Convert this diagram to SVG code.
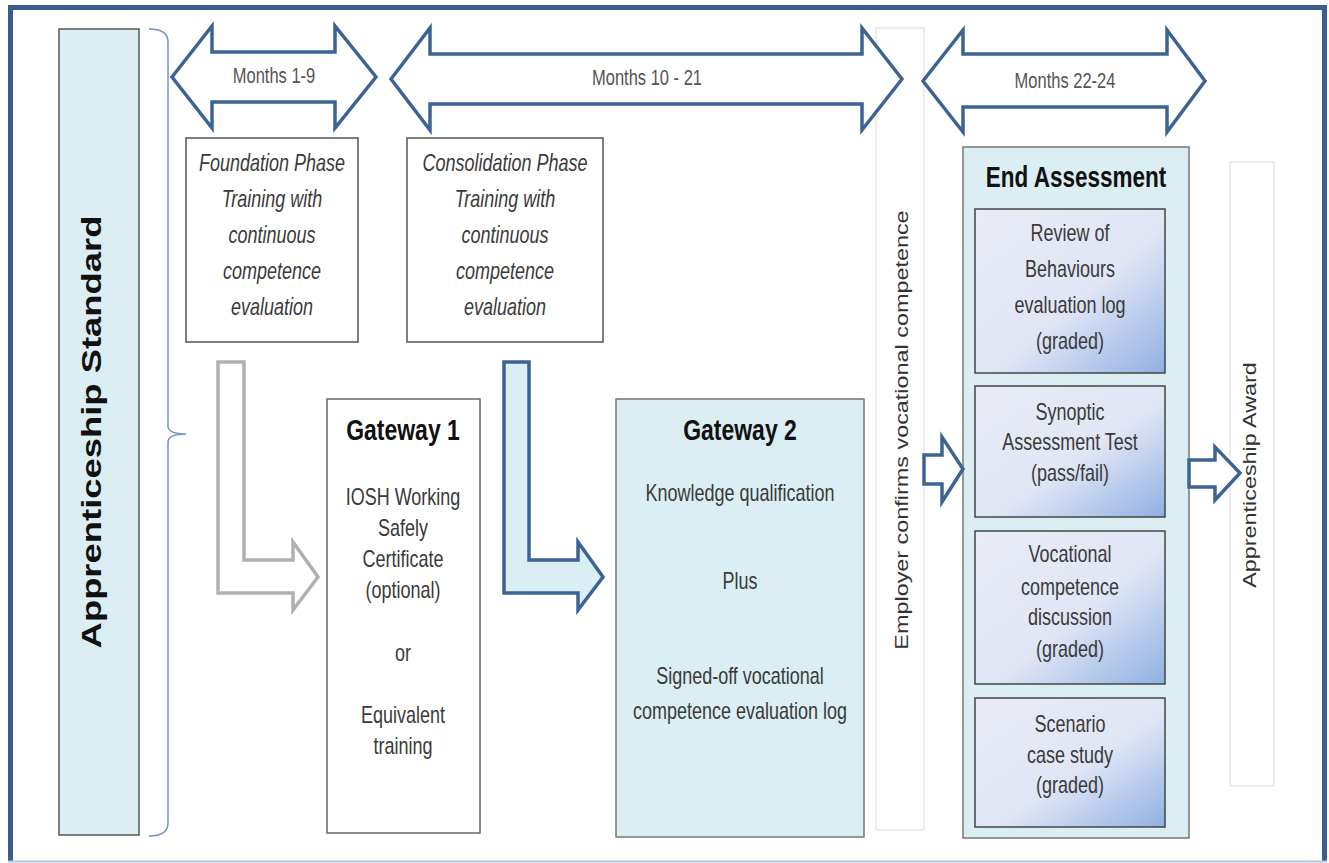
<svg xmlns="http://www.w3.org/2000/svg" width="1329" height="863" viewBox="0 0 1329 863">
<defs>
<linearGradient id="sub" x1="0" y1="0" x2="1" y2="1">
<stop offset="0" stop-color="#e9ecf6"/>
<stop offset="0.55" stop-color="#e1e6f5"/>
<stop offset="1" stop-color="#8fb0e3"/>
</linearGradient>
<style>
text{font-family:"Liberation Sans",Arial,sans-serif;text-anchor:middle}
.t{font-size:18px;fill:#3a3a3a}
.i{font-size:18px;fill:#3a3a3a;font-style:italic}
.m{font-size:16.5px;fill:#555}
.h{font-size:23px;font-weight:bold;fill:#111}
.box{fill:#fff;stroke:#666;stroke-width:1.5}
.lb{fill:#daeef3;stroke:#777;stroke-width:1.5}
.sb{fill:url(#sub);stroke:#444;stroke-width:1.5}
.faint{fill:#fff;stroke:#e2e2e2;stroke-width:1.2}
.ba{fill:#fff;stroke:#3b6494;stroke-width:3.5;stroke-linejoin:miter}
</style>
</defs>
<rect width="1329" height="863" fill="#fff"/>
<path d="M10.5,862 L10.5,7.5 L1324.5,7.5 L1324.5,862" fill="none" stroke="#3a5f8f" stroke-width="5"/>
<line x1="8" y1="861.5" x2="1327" y2="861.5" stroke="#b4c6e0" stroke-width="2"/>

<g id="standard">
<rect x="59" y="29" width="80" height="806" fill="#daeef3" stroke="#555" stroke-width="1.5"/>
<text transform="translate(101,432) scale(1,1.3) rotate(-90)" style="font-size:28px;font-weight:bold;fill:#111">Apprenticeship Standard</text>
</g>
<g id="brace">
<path d="M149,29 Q168,29 168,42 L168,426 Q168,434 186,434 Q168,434 168,442 L168,823 Q168,836 149,836" fill="none" stroke="#6d93c8" stroke-width="1.5"/>
</g>

<g id="employer">
<rect class="faint" x="876" y="28" width="48" height="802"/>
<text class="t" transform="translate(908,430) scale(1,1.3) rotate(-90)" style="fill:#333">Employer confirms vocational competence</text>
</g>

<g id="foundation">
<rect x="186" y="138" width="172" height="204" fill="#fff" stroke="#555" stroke-width="1.5"/>
<text class="i" transform="translate(272,171) scale(1,1.3)">Foundation Phase</text>
<text class="i" transform="translate(272,207) scale(1,1.3)">Training with</text>
<text class="i" transform="translate(272,243) scale(1,1.3)">continuous</text>
<text class="i" transform="translate(272,279) scale(1,1.3)">competence</text>
<text class="i" transform="translate(272,315) scale(1,1.3)">evaluation</text>
</g>

<g id="consolidation">
<rect x="407" y="138" width="196" height="204" fill="#fff" stroke="#555" stroke-width="1.5"/>
<text class="i" transform="translate(505,171) scale(1,1.3)">Consolidation Phase</text>
<text class="i" transform="translate(505,207) scale(1,1.3)">Training with</text>
<text class="i" transform="translate(505,243) scale(1,1.3)">continuous</text>
<text class="i" transform="translate(505,279) scale(1,1.3)">competence</text>
<text class="i" transform="translate(505,315) scale(1,1.3)">evaluation</text>
</g>

<g id="gateway1">
<rect class="box" x="327" y="399" width="153" height="434"/>
<text class="h" transform="translate(403,440) scale(1,1.3)">Gateway 1</text>
<text class="t" transform="translate(403,505) scale(1,1.3)">IOSH Working</text>
<text class="t" transform="translate(403,536) scale(1,1.3)">Safely</text>
<text class="t" transform="translate(403,567) scale(1,1.3)">Certificate</text>
<text class="t" transform="translate(403,598) scale(1,1.3)">(optional)</text>
<text class="t" transform="translate(403,661) scale(1,1.3)">or</text>
<text class="t" transform="translate(403,723) scale(1,1.3)">Equivalent</text>
<text class="t" transform="translate(403,754) scale(1,1.3)">training</text>
</g>

<g id="gateway2">
<rect class="lb" x="616" y="399" width="248" height="438"/>
<text class="h" transform="translate(740,440) scale(1,1.3)">Gateway 2</text>
<text class="t" transform="translate(740,501) scale(1,1.3)">Knowledge qualification</text>
<text class="t" transform="translate(740,589) scale(1,1.3)">Plus</text>
<text class="t" transform="translate(740,684) scale(1,1.3)">Signed-off vocational</text>
<text class="t" transform="translate(740,719) scale(1,1.3)">competence evaluation log</text>
</g>

<g id="endassessment">
<rect class="lb" x="963" y="147" width="226" height="691"/>
<text class="h" transform="translate(1076,187) scale(1,1.3)" style="font-size:22.5px">End Assessment</text>
</g>
<g id="review">
<rect class="sb" x="975" y="209" width="190" height="164"/>
<text class="t" transform="translate(1070,241) scale(1,1.3)">Review of</text>
<text class="t" transform="translate(1070,277) scale(1,1.3)">Behaviours</text>
<text class="t" transform="translate(1070,313) scale(1,1.3)">evaluation log</text>
<text class="t" transform="translate(1070,349) scale(1,1.3)">(graded)</text>
</g>
<g id="synoptic">
<rect class="sb" x="975" y="386" width="190" height="131"/>
<text class="t" transform="translate(1070,420) scale(1,1.3)">Synoptic</text>
<text class="t" transform="translate(1070,450) scale(1,1.3)">Assessment Test</text>
<text class="t" transform="translate(1070,481) scale(1,1.3)">(pass/fail)</text>
</g>
<g id="vocational">
<rect class="sb" x="975" y="531" width="190" height="153"/>
<text class="t" transform="translate(1070,562) scale(1,1.3)">Vocational</text>
<text class="t" transform="translate(1070,595) scale(1,1.3)">competence</text>
<text class="t" transform="translate(1070,625) scale(1,1.3)">discussion</text>
<text class="t" transform="translate(1070,657) scale(1,1.3)">(graded)</text>
</g>
<g id="scenario">
<rect class="sb" x="975" y="698" width="190" height="129"/>
<text class="t" transform="translate(1070,732) scale(1,1.3)">Scenario</text>
<text class="t" transform="translate(1070,763) scale(1,1.3)">case study</text>
<text class="t" transform="translate(1070,793) scale(1,1.3)">(graded)</text>
</g>

<g id="award">
<rect class="faint" x="1230" y="162" width="44" height="624"/>
<text class="t" transform="translate(1256,475) scale(1,1.3) rotate(-90)" style="fill:#333">Apprenticeship Award</text>
</g>

<g id="connectors">
<polygon class="ba" points="172,77 212,26 212,52 335,52 335,26 376,77 335,128 335,102 212,102 212,128"/>
<polygon class="ba" points="391,79 430,28 430,54 862,54 862,28 902,79 862,130 862,104 430,104 430,130"/>
<polygon class="ba" points="923,81 963,30 963,54 1167,54 1167,30 1205,81 1167,132 1167,107 963,107 963,132"/>
<polygon points="218,362 244,362 244,560 293,560 293,542 318,577 293,610 293,593 218,593" fill="#fff" stroke="#b0b0b0" stroke-width="3.5"/>
<polygon points="504,362 529,362 529,560 578,560 578,542 603,577 578,610 578,593 504,593" fill="#daeef3" stroke="#3b6494" stroke-width="3.5"/>
<polygon class="ba" points="924,455 942,455 942,437 963,469 942,502 942,484 924,484"/>
<polygon class="ba" points="1189,460 1215,460 1215,447 1240,473 1215,500 1215,487 1189,487"/>
</g>
<g id="month-labels">
<text class="m" transform="translate(274,83) scale(1,1.3)">Months 1-9</text>
<text class="m" transform="translate(647,85) scale(1,1.3)">Months 10 - 21</text>
<text class="m" transform="translate(1065,88) scale(1,1.3)">Months 22-24</text>
</g>
</svg>
